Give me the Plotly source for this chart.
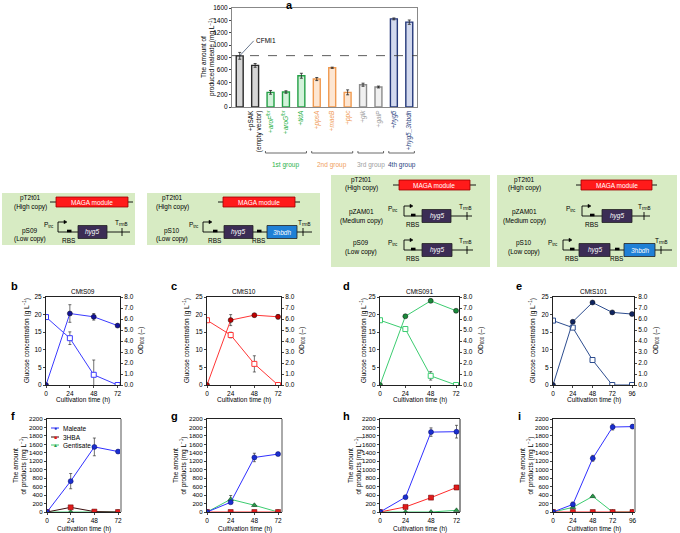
import plotly.graph_objects as go

W, H = 680, 533
def X(p): return p / W
def Y(p): return 1 - p / H

FONT = "Liberation Sans, Arial, sans-serif"

# ---------------- data: panel a ----------------
a_cats = ["CFMI1", "pSAK", "aroF", "aroG", "tktA", "ppsA", "maeB", "ppc", "glk", "galP", "hyg5", "hyg5_3hbdh"]
a_ticktext = ["", "+pSAK<br>(empty vector)", "+<i>aroF</i><sup>fbr</sup>", "+<i>aroG</i><sup>fbr</sup>",
              "+<i>tktA</i>", "+<i>ppsA</i>", "+<i>maeB</i>", "+<i>ppc</i>", "+<i>glk</i>", "+<i>galP</i>",
              "+<i>hyg5</i>", "+<i>hyg5_3hbdh</i>"]
a_values = [827, 672, 237, 242, 505, 452, 634, 237, 360, 323, 1424, 1371]
a_errors = [55, 30, 30, 20, 40, 25, 10, 40, 25, 15, 15, 35]
a_group = ["base", "base", "g1", "g1", "g1", "g2", "g2", "g2", "g3", "g3", "g4", "g4"]
a_reference = 830
a_yticks = [0, 200, 400, 600, 800, 1000, 1200, 1400, 1600]
group_names = [("1st group", "g1"), ("2nd group", "g2"), ("3rd group", "g3"), ("4th group", "g4")]

# ---------------- data: panels b-e ----------------
time_bcd = [0, 24, 48, 72]
time_e = [0, 24, 48, 72, 96]
glc_b = [19.3, 13.3, 2.9, 0]; glc_b_err = [0, 1.8, 4.2, 0]
od_b = [0, 6.5, 6.2, 5.4];    od_b_err = [0, 0.8, 0.3, 0.1]
glc_c = [18.4, 14.2, 6.0, 0]; glc_c_err = [0, 0.8, 2.3, 0]
od_c = [0, 5.9, 6.35, 6.2];   od_c_err = [0, 0.5, 0.15, 0.2]
glc_d = [18.4, 15.9, 2.6, 0]; glc_d_err = [0, 0, 1.2, 0]
od_d = [0, 6.25, 7.65, 6.75]; od_d_err = [0, 0.1, 0.15, 0.1]
glc_e = [18.3, 16.3, 7.1, 0, 0]; glc_e_err = [0, 0, 0, 0, 0]
od_e = [0, 5.75, 7.5, 6.6, 6.45]; od_e_err = [0, 0.1, 0.1, 0.1, 0.1]
glc_ticks = [0, 5, 10, 15, 20, 25]
od_ticks = [0, 1, 2, 3, 4, 5, 6, 7, 8]

# ---------------- data: panels f-i ----------------
maleate_f = [0, 730, 1540, 1430]; maleate_f_err = [0, 180, 210, 30]
hba_f = [0, 110, 10, 0];          hba_f_err = [0, 20, 0, 0]
gen_f = [0, 0, 0, 0];             gen_f_err = [0, 0, 0, 0]
maleate_g = [0, 230, 1290, 1370]; maleate_g_err = [0, 30, 100, 30]
hba_g = [0, 0, 0, 0];             hba_g_err = [0, 0, 0, 0]
gen_g = [0, 300, 160, 0];         gen_g_err = [0, 90, 20, 0]
maleate_h = [0, 350, 1890, 1900]; maleate_h_err = [0, 20, 100, 150]
hba_h = [0, 120, 340, 580];       hba_h_err = [0, 30, 20, 50]
gen_h = [0, 0, 0, 40];            gen_h_err = [0, 0, 0, 0]
maleate_i = [0, 180, 1270, 2010, 2020]; maleate_i_err = [0, 50, 70, 70, 40]
hba_i = [0, 0, 0, 0, 0];          hba_i_err = [0, 0, 0, 0, 0]
gen_i = [0, 110, 370, 0, 0];      gen_i_err = [0, 20, 20, 0, 0]
prod_ticks = list(range(0, 2201, 200))

# ---------------- helpers ----------------
shapes, anns = [], []

def ann(x, y, text, size=6.5, color="black", xa="center", ya="middle", angle=0):
    anns.append(dict(x=X(x), y=Y(y), xref="paper", yref="paper", text=text, showarrow=False,
                     font=dict(size=size, color=color, family=FONT), xanchor=xa, yanchor=ya,
                     textangle=angle))

def rect(x0, y0, x1, y1, fill, lc=None, lw=0.8):
    shapes.append(dict(type="rect", xref="paper", yref="paper", x0=X(x0), x1=X(x1), y0=Y(y1), y1=Y(y0),
                       fillcolor=fill, line=dict(color=lc if lc else fill, width=lw if lc else 0)))

def seg(x0, y0, x1, y1, color="black", w=0.9, dash="solid"):
    shapes.append(dict(type="line", xref="paper", yref="paper", x0=X(x0), x1=X(x1), y0=Y(y0), y1=Y(y1),
                       line=dict(color=color, width=w, dash=dash)))

def arrowhead(x, y):
    shapes.append(dict(type="path", xref="paper", yref="paper",
                       path=f"M {X(x)},{Y(y)} L {X(x-3)},{Y(y-1.8)} L {X(x-3)},{Y(y+1.8)} Z",
                       fillcolor="black", line=dict(color="black", width=0.5)))

fig = go.Figure()
lay = dict(width=W, height=H, margin=dict(l=0, r=0, t=0, b=0, pad=0, autoexpand=False),
           paper_bgcolor="white", plot_bgcolor="white", showlegend=False,
           font=dict(family=FONT, size=6.5, color="black"))

# ---------------- panel a ----------------
edge = {"base": "#2b2b2b", "g1": "#23a046", "g2": "#f09a50", "g3": "#8c8c8c", "g4": "#26397a"}
fill = {"base": "#d6d6d6", "g1": "#d2f2da", "g2": "#fde6d2", "g3": "#f0f0f0", "g4": "#d2d9ee"}
lab = {"base": "#000000", "g1": "#2db34a", "g2": "#f0a060", "g3": "#a0a0a0", "g4": "#2a3f80"}

fig.add_trace(go.Bar(x=a_cats, y=a_values, xaxis="x", yaxis="y", width=0.45,
                     error_y=dict(type="data", array=a_errors, color="#222", thickness=0.8, width=1.5),
                     marker=dict(color=[fill[g] for g in a_group],
                                 line=dict(color=[edge[g] for g in a_group], width=1.4))))
lay["xaxis"] = dict(domain=[X(232), X(417)], anchor="y", range=[-0.5, 11.5], tickmode="array",
                    tickvals=a_cats,
                    ticktext=[f'<span style="color:{lab[g]}">{t}</span>' for t, g in zip(a_ticktext, a_group)],
                    tickangle=-90, tickfont=dict(size=6.5), showline=True, linecolor="#888",
                    mirror=True, ticks="", showgrid=False, automargin=False)
lay["yaxis"] = dict(domain=[Y(107), Y(8)], anchor="x", range=[0, 1600], tickvals=a_yticks,
                    ticks="outside", ticklen=2, tickfont=dict(size=6.5), showline=True,
                    linecolor="#888", mirror=True, showgrid=False, zeroline=False, automargin=False)
shapes.append(dict(type="line", xref="x domain", yref="y", x0=0, x1=1, y0=a_reference, y1=a_reference,
                   line=dict(color="#333", width=0.8, dash="dash")))
anns.append(dict(x=0, y=a_values[0], xref="x", yref="y", text="CFMI1", showarrow=True, arrowhead=0,
                 arrowwidth=0.7, ax=14, ay=-15, font=dict(size=6.5, family=FONT), xanchor="left"))
ann(289, 5, "<b>a</b>", size=11)
ann(208, 57, "The amount of<br>produced maleate (mg L<sup>−1</sup>)", size=6.5, angle=-90)
for name, g in group_names:
    idx = [i for i, gg in enumerate(a_group) if gg == g]
    x0, x1 = idx[0] - 0.33, idx[-1] + 0.33
    shapes.append(dict(type="line", xref="x", yref="paper", x0=x0, x1=x1, y0=Y(153), y1=Y(153),
                       line=dict(color="#444", width=0.8)))
    for xx in (x0, x1):
        shapes.append(dict(type="line", xref="x", yref="paper", x0=xx, x1=xx, y0=Y(153), y1=Y(151),
                           line=dict(color="#444", width=0.8)))
    anns.append(dict(x=(idx[0] + idx[-1]) / 2, y=Y(159), xref="x", yref="paper", text=name,
                     showarrow=False, font=dict(size=6.5, color=lab[g], family=FONT)))

# ---------------- construct diagrams ----------------
GREEN = "#d7ebc3"
def maga(yb, lx0, rx0, rx1, lx1):
    seg(lx0, yb, lx1, yb)
    rect(rx0, yb - 5, rx1, yb + 5, "#ff1a1a", "#9a0000", 0.8)
    ann((rx0 + rx1) / 2, yb, "MAGA module", size=6.5, color="white")

def cassette(yb, p_lab, p_x, end_x, rbs, genes, term_x, t_lab):
    seg(p_x, yb, end_x, yb)
    seg(p_x, yb, p_x, yb - 10)
    seg(p_x, yb - 10, p_x + 7, yb - 10)
    arrowhead(p_x + 9, yb - 10)
    ann(p_lab, yb - 7, "P<sub>trc</sub>", size=6.5)
    for r in rbs:
        rect(r, yb - 2.3, r + 4.5, yb + 0.3, "black")
        ann(r + 2, yb + 8, "RBS", size=6.5)
    for g0, g1, name, col in genes:
        rect(g0, yb - 6.5, g1, yb + 6.5, col, "#222", 0.8)
        ann((g0 + g1) / 2, yb, f"<i>{name}</i>", size=6.5, color="white")
    seg(term_x, yb - 4, term_x, yb + 4)
    ann(t_lab, yb - 9, "T<sub>rrnB</sub>", size=6.5)

PURPLE, BLUE = "#3c2d55", "#1f80d6"
# box 1
rect(2, 193, 135, 245, GREEN)
ann(30, 198, "pT2t01"); ann(30, 207, "(High copy)")
ann(30, 231, "pS09"); ann(30, 239, "(Low copy)")
maga(202, 50, 56, 128, 133)
cassette(232, 49, 58, 130, [67], [(78, 107, "hyg5", PURPLE)], 122, 121)
# box 2
rect(147, 193, 320, 245, GREEN)
ann(172, 198, "pT2t01"); ann(172, 207, "(High copy)")
ann(172, 231, "pS10"); ann(172, 239, "(Low copy)")
maga(202, 218, 223, 295, 300)
cassette(232, 194, 203, 312, [213, 257], [(224, 253, "hyg5", PURPLE), (267, 297, "3hbdh", BLUE)], 303, 304)
# box 3
rect(331, 175, 490, 267, GREEN)
ann(361, 180, "pT2t01"); ann(361, 188, "(High copy)")
ann(361, 212, "pZAM01"); ann(361, 221, "(Medium copy)")
ann(361, 243, "pS09"); ann(361, 252, "(Low copy)")
maga(185, 393, 399, 470, 476)
cassette(216, 393, 404, 472, [411], [(422, 451, "hyg5", PURPLE)], 467, 465)
cassette(250, 393, 404, 473, [411], [(422, 452, "hyg5", PURPLE)], 467, 465)
# box 4
rect(497, 175, 677, 267, GREEN)
ann(524, 180, "pT2t01"); ann(524, 188, "(High copy)")
ann(524, 212, "pZAM01"); ann(524, 221, "(Medium copy)")
ann(524, 243, "pS10"); ann(524, 252, "(Low copy)")
maga(185, 576, 581, 652, 657)
cassette(216, 571, 582, 650, [590], [(602, 632, "hyg5", PURPLE)], 644, 644)
cassette(250, 553, 563, 672, [570, 615], [(579, 610, "hyg5", PURPLE), (624, 655, "3hbdh", BLUE)], 661, 661)

# ---------------- panels b-e ----------------
top = [
    ("b", "CMtS09", time_bcd, glc_b, glc_b_err, od_b, od_b_err, "#3b3bff", "#12129a", 46, 120, 74.4, 27, 141, 14),
    ("c", "CMtS10", time_bcd, glc_c, glc_c_err, od_c, od_c_err, "#ff3535", "#c00000", 207, 281, 75, 187, 302, 174),
    ("d", "CMtS091", time_bcd, glc_d, glc_d_err, od_d, od_d_err, "#3ccc70", "#1a8a3a", 380, 459, 74.8, 364, 481, 346),
    ("e", "CMtS101", time_e, glc_e, glc_e_err, od_e, od_e_err, "#2d4d8f", "#0f2460", 553, 634, 98.4, 533, 656, 519),
]
YT0, YT1 = 297, 385
ax = 2
for k, (letter, title, t, glc, glc_err, od, od_err, lc, mc, x0, x1, xmax, ylx, yrx, letx) in enumerate(top):
    xa, yl, yr = ax, 2 * k + 2, 2 * k + 3
    xn, yln, yrn = f"x{xa}", f"y{yl}", f"y{yr}"
    fig.add_trace(go.Scatter(x=t, y=glc, xaxis=xn, yaxis=yln, mode="lines+markers",
                             line=dict(color=lc, width=1),
                             marker=dict(symbol="square", size=5, color="white", line=dict(color=lc, width=1)),
                             error_y=dict(type="data", array=glc_err, color="#333", thickness=0.7, width=1.5)))
    fig.add_trace(go.Scatter(x=t, y=od, xaxis=xn, yaxis=yrn, mode="lines+markers",
                             line=dict(color=lc, width=1),
                             marker=dict(symbol="circle", size=5, color=mc, line=dict(color="#111", width=0.5)),
                             error_y=dict(type="data", array=od_err, color="#333", thickness=0.7, width=1.5)))
    lay[f"xaxis{xa}"] = dict(domain=[X(x0), X(x1)], anchor=yln, range=[0, xmax], tickvals=t,
                             ticks="outside", ticklen=2, showline=True, linecolor="#222", mirror=True,
                             showgrid=False, zeroline=False, tickfont=dict(size=6.5), automargin=False)
    lay[f"yaxis{yl}"] = dict(domain=[Y(YT1), Y(YT0)], anchor=xn, range=[0, 25], tickvals=glc_ticks,
                             ticks="outside", ticklen=2, showline=True, linecolor="#222",
                             showgrid=False, zeroline=False, tickfont=dict(size=6.5), automargin=False)
    lay[f"yaxis{yr}"] = dict(domain=[Y(YT1), Y(YT0)], anchor=xn, overlaying=yln, side="right",
                             range=[0, 8], tickvals=od_ticks, tickformat=".1f", ticks="outside", ticklen=2,
                             showline=True, linecolor="#222", showgrid=False, zeroline=False,
                             tickfont=dict(size=6.5), automargin=False)
    ann(letx, 286, f"<b>{letter}</b>", size=11)
    ann((x0 + x1) / 2, 291, title, size=6.5)
    ann(ylx, (YT0 + YT1) / 2, "Glucose concentration (g L<sup>−1</sup>)", size=6.5, angle=-90)
    ann(yrx, (YT0 + YT1) / 2, "OD<sub>600</sub> (–)", size=6.5, angle=-90)
    ann((x0 + x1) / 2, 400, "Cultivation time (h)", size=6.5)
    ax += 1

# ---------------- panels f-i ----------------
bottom = [
    ("f", time_bcd, maleate_f, maleate_f_err, hba_f, hba_f_err, gen_f, gen_f_err, "#3a0d0d", 47, 121, 75, 19, 13, "#aaaaaa", 2),
    ("g", time_bcd, maleate_g, maleate_g_err, hba_g, hba_g_err, gen_g, gen_g_err, "#ff2a2a", 207, 282, 76, 179, 174, "#aaaaaa", 2),
    ("h", time_bcd, maleate_h, maleate_h_err, hba_h, hba_h_err, gen_h, gen_h_err, "#ff2a2a", 380, 460, 75.3, 354, 346, "#222222", 1),
    ("i", time_e, maleate_i, maleate_i_err, hba_i, hba_i_err, gen_i, gen_i_err, "#ff2a2a", 553, 635, 99, 526, 519, "#aaaaaa", 2),
]
YB0, YB1 = 419, 512
yidx = 10
for letter, t, mal, mal_e, hba, hba_e, gen, gen_e, hlc, x0, x1, xmax, ylx, letx, rcol, rw in bottom:
    xn, yn = f"x{ax}", f"y{yidx}"
    eb = lambda arr: dict(type="data", array=arr, color="#333", thickness=0.7, width=1.5)
    fig.add_trace(go.Scatter(x=t, y=gen, xaxis=xn, yaxis=yn, mode="lines+markers", name="Gentisate",
                             line=dict(color="#3ccc70", width=1), error_y=eb(gen_e),
                             marker=dict(symbol="triangle-up", size=5, color="#2a9a4a",
                                         line=dict(color="#0a3a1a", width=0.5))))
    fig.add_trace(go.Scatter(x=t, y=hba, xaxis=xn, yaxis=yn, mode="lines+markers", name="3HBA",
                             line=dict(color=hlc, width=1), error_y=eb(hba_e),
                             marker=dict(symbol="square", size=5, color="#e01b1b",
                                         line=dict(color="#600", width=0.5))))
    fig.add_trace(go.Scatter(x=t, y=mal, xaxis=xn, yaxis=yn, mode="lines+markers", name="Maleate",
                             line=dict(color="#3030ff", width=1), error_y=eb(mal_e),
                             marker=dict(symbol="circle", size=5, color="#1a2fd0",
                                         line=dict(color="#0a0a60", width=0.5))))
    lay[f"xaxis{ax}"] = dict(domain=[X(x0), X(x1)], anchor=yn, range=[0, xmax], tickvals=t,
                             ticks="outside", ticklen=2, showline=True, linecolor="#222", mirror=True,
                             showgrid=False, zeroline=False, tickfont=dict(size=6.5), automargin=False)
    lay[f"yaxis{yidx}"] = dict(domain=[Y(YB1), Y(YB0)], anchor=xn, range=[0, 2200], tickvals=prod_ticks,
                               ticks="outside", ticklen=2, showline=True, linecolor="#222",
                               showgrid=False, zeroline=False, tickfont=dict(size=6.2), automargin=False)
    shapes.append(dict(type="line", xref=f"{xn} domain", yref=f"{yn} domain", x0=1, x1=1, y0=0, y1=1,
                       line=dict(color=rcol, width=rw)))
    ann(letx, 416, f"<b>{letter}</b>", size=11)
    ann(ylx, (YB0 + YB1) / 2, "The amount<br>of products (mg L<sup>−1</sup>)", size=6.5, angle=-90)
    ann((x0 + x1) / 2, 528.5, "Cultivation time (h)", size=6.5)
    ax += 1
    yidx += 1

# legend in panel f
leg = [("Maleate", "#3030ff", "●", "#1a2fd0", 428), ("3HBA", "#3a0d0d", "■", "#e01b1b", 437),
       ("Gentisate", "#3ccc70", "▲", "#2a9a4a", 445)]
for name, lc, sym, mc, yy in leg:
    seg(51, yy, 59, yy, color=lc, w=1)
    ann(55, yy, sym, size=5, color=mc)
    ann(61, yy, name, size=6.5, xa="left")

lay["shapes"] = shapes
lay["annotations"] = anns
fig.update_layout(**lay)
fig.write_html("out.html", config={"displayModeBar": False},
               post_script="document.body.style.margin='0px';document.body.style.overflow='hidden';")
